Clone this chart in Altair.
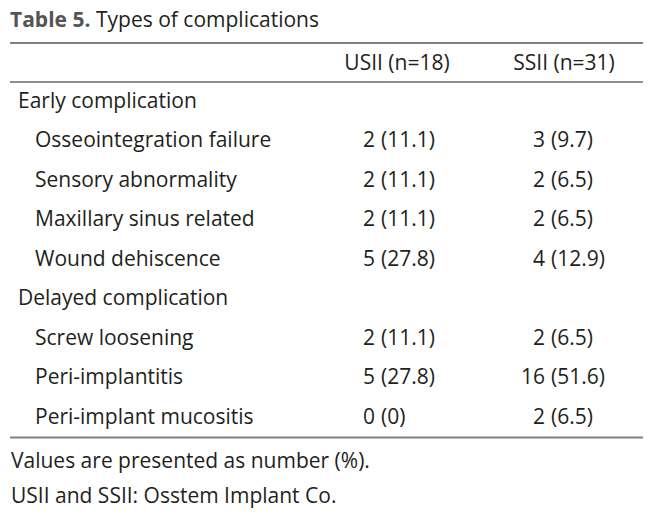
import altair as alt
import pandas as pd

# ---- data ----
row_labels = [
    "Early complication",
    "Osseointegration failure",
    "Sensory abnormality",
    "Maxillary sinus related",
    "Wound dehiscence",
    "Delayed complication",
    "Screw loosening",
    "Peri-implantitis",
    "Peri-implant mucositis",
]
row_level = [0, 1, 1, 1, 1, 0, 1, 1, 1]
usii_n = ["", "2", "2", "2", "5", "", "2", "5", "0"]
usii_pct = ["", "11.1", "11.1", "11.1", "27.8", "", "11.1", "27.8", "0"]
ssii_n = ["", "3", "2", "2", "4", "", "2", "16", "2"]
ssii_pct = ["", "9.7", "6.5", "6.5", "12.9", "", "6.5", "51.6", "6.5"]
column_headers = ["USII (n=18)", "SSII (n=31)"]
title_bold = "Table 5."
title_rest = "Types of complications"
footnotes = ["Values are presented as number (%).", "USII and SSII: Osstem Implant Co."]

W, H = 647, 502
FONT = "Open Sans"
FS = 21
TXT = "#231f20"

rows = pd.DataFrame({"row": list(range(len(row_labels))), "label": row_labels, "level": row_level})
recs = []
for ci, (ns, ps) in enumerate([(usii_n, usii_pct), (ssii_n, ssii_pct)]):
    for i, (n, p) in enumerate(zip(ns, ps)):
        if n:
            recs.append({"row": i, "col": ci, "n": n, "pct": f"({p})"})
cells = pd.DataFrame(recs)
headers = pd.DataFrame({"col": [0, 1], "text": column_headers})

yscale = alt.Scale(domain=[-2.383, 10.342], range=[0, H])
colscale = alt.Scale(domain=[0, 1], range=[389, 556])
nscale = alt.Scale(domain=[0, 1], range=[367, 537])
pscale = alt.Scale(domain=[0, 1], range=[373, 543])

labels = alt.Chart(rows).mark_text(
    align="left", baseline="middle", font=FONT, fontSize=FS, color=TXT
).encode(
    x=alt.X("level:Q", scale=alt.Scale(domain=[0, 1], range=[10, 27]), axis=None),
    y=alt.Y("row:Q", scale=yscale, axis=None),
    text="label:N",
)

counts = alt.Chart(cells).mark_text(
    align="right", baseline="middle", font=FONT, fontSize=FS, color=TXT
).encode(
    x=alt.X("col:Q", scale=nscale, axis=None),
    y=alt.Y("row:Q", scale=yscale, axis=None),
    text="n:N",
)

pcts = alt.Chart(cells).mark_text(
    align="left", baseline="middle", font=FONT, fontSize=FS, color=TXT
).encode(
    x=alt.X("col:Q", scale=pscale, axis=None),
    y=alt.Y("row:Q", scale=yscale, axis=None),
    text="pct:N",
)

head = alt.Chart(headers).mark_text(
    align="center", baseline="middle", font=FONT, fontSize=FS, color=TXT
).encode(
    x=alt.X("col:Q", scale=colscale, axis=None),
    y=alt.value(56),
    text="text:N",
)

title1 = alt.Chart(pd.DataFrame({"t": [title_bold]})).mark_text(
    align="left", baseline="middle", font=FONT, fontSize=FS, fontWeight="bold", color="#555555"
).encode(x=alt.value(2), y=alt.value(13), text="t:N")

title2 = alt.Chart(pd.DataFrame({"t": [title_rest]})).mark_text(
    align="left", baseline="middle", font=FONT, fontSize=FS, color=TXT
).encode(x=alt.value(88), y=alt.value(13), text="t:N")

rule_top = alt.Chart(pd.DataFrame({"a": [0]})).mark_rule(color="#808080", strokeWidth=2).encode(
    x=alt.value(2), x2=alt.value(635), y=alt.value(35)
)
rule_head = alt.Chart(pd.DataFrame({"a": [0]})).mark_rule(color=TXT, strokeWidth=1.2).encode(
    x=alt.value(2), x2=alt.value(635), y=alt.value(74)
)
rule_bot = alt.Chart(pd.DataFrame({"a": [0]})).mark_rule(color="#808080", strokeWidth=2).encode(
    x=alt.value(2), x2=alt.value(635), y=alt.value(429.5)
)

foot = alt.Chart(pd.DataFrame({"t": footnotes, "i": [0, 1]})).mark_text(
    align="left", baseline="middle", font=FONT, fontSize=FS, color=TXT
).encode(
    x=alt.value(3),
    y=alt.Y("i:Q", scale=alt.Scale(domain=[0, 1], range=[454, 489]), axis=None),
    text="t:N",
)

chart = alt.layer(
    rule_top, rule_head, rule_bot, title1, title2, head, labels, counts, pcts, foot
).resolve_scale(y="independent", x="independent").properties(
    width=W, height=H, padding=0, autosize=alt.AutoSizeParams(type="none")
).configure_view(stroke=None)

chart.save("out.html", embed_options={"renderer": "svg", "actions": False})
